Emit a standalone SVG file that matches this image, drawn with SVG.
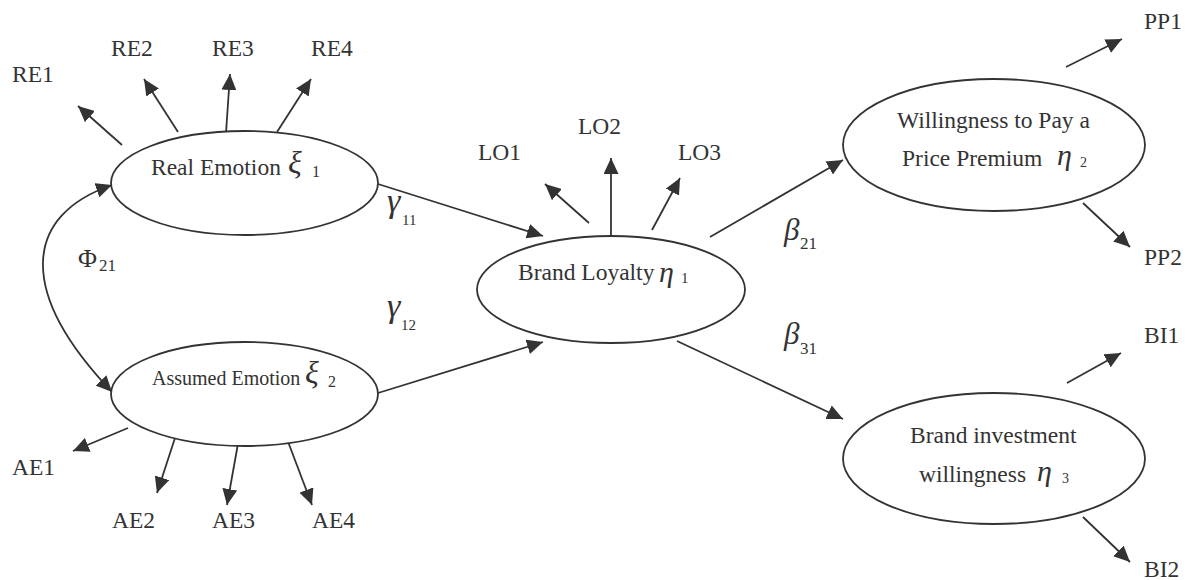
<svg xmlns="http://www.w3.org/2000/svg" width="1190" height="580" viewBox="0 0 1190 580">
<defs>
<marker id="ah" markerUnits="userSpaceOnUse" markerWidth="16" markerHeight="15" refX="16" refY="7.5" orient="auto-start-reverse">
<path d="M0,0 L16,7.5 L0,15 z" fill="#333"/>
</marker>
<style>
text{font-family:"Liberation Serif","Times New Roman",serif;fill:#333;}
.lbl{font-size:23.5px;}
.gr{font-style:italic;font-size:30px;}
.gx{font-style:italic;font-size:32px;}
.gg{font-style:italic;font-size:34px;}
.gb{font-style:italic;font-size:31px;}
.sub{font-size:15px;}
.lat{fill:#fff;stroke:#333;stroke-width:1.8;}
.c{stroke:#333;stroke-width:1.8;fill:none;marker-end:url(#ah);}
</style>
</defs>
<rect width="1190" height="580" fill="#fff"/>
<g id="connectors">
<line class="c" x1="122" y1="145" x2="78" y2="106"/>
<line class="c" x1="178" y1="132" x2="144" y2="79"/>
<line class="c" x1="226" y1="133" x2="230" y2="74"/>
<line class="c" x1="277" y1="132" x2="311" y2="79"/>
<line class="c" x1="128" y1="428" x2="73" y2="451"/>
<line class="c" x1="175" y1="438" x2="157" y2="493"/>
<line class="c" x1="239" y1="438" x2="227" y2="505"/>
<line class="c" x1="287" y1="439" x2="312" y2="505"/>
<line class="c" x1="589" y1="223" x2="545" y2="184"/>
<line class="c" x1="611" y1="236" x2="611" y2="158"/>
<line class="c" x1="652" y1="230" x2="680" y2="178"/>
<line class="c" x1="378" y1="184" x2="543" y2="236"/>
<line class="c" x1="378" y1="393" x2="543" y2="342"/>
<line class="c" x1="710" y1="237" x2="843" y2="160"/>
<line class="c" x1="677" y1="341" x2="843" y2="419"/>
<line class="c" x1="1066" y1="67" x2="1122" y2="39"/>
<line class="c" x1="1083" y1="203" x2="1130" y2="247"/>
<line class="c" x1="1067" y1="383" x2="1121" y2="353"/>
<line class="c" x1="1083" y1="517" x2="1130" y2="562"/>
<path class="c" style="marker-start:url(#ah)" d="M112,185 C25,215 15,290 112,392"/>
</g>
<g id="coef-labels">
<text class="gg" x="387" y="212">γ</text><text class="sub" x="402" y="225">11</text>
<text class="gg" x="387" y="317">γ</text><text class="sub" x="401" y="330">12</text>
<text class="gb" x="784" y="240">β</text><text x="800" y="249" style="font-size:17px">21</text>
<text class="gb" x="784" y="344">β</text><text x="800" y="354" style="font-size:17px">31</text>
<text x="78" y="267" style="font-size:26px">Φ</text><text x="99" y="271" style="font-size:17px">21</text>
</g>
<g id="real-emotion">
<ellipse class="lat" cx="244.5" cy="183" rx="133.5" ry="52"/>
<text class="lbl" x="151" y="175">Real Emotion</text><text class="gx" x="288" y="173">ξ</text><text style="font-size:16px" x="312" y="177">1</text>
</g>
<g id="assumed-emotion">
<ellipse class="lat" cx="244.5" cy="394" rx="133.5" ry="52"/>
<text style="font-size:20px" x="152" y="385">Assumed Emotion</text><text class="gx" x="305" y="383">ξ</text><text style="font-size:16px" x="328" y="387">2</text>
</g>
<g id="brand-loyalty">
<ellipse class="lat" cx="611" cy="289.5" rx="134" ry="53.5"/>
<text class="lbl" x="518" y="280">Brand Loyalty</text><text class="gr" x="659" y="282">η</text><text class="sub" x="681" y="283">1</text>
</g>
<g id="price-premium">
<ellipse class="lat" cx="994" cy="145" rx="151" ry="66"/>
<text class="lbl" x="897" y="128">Willingness to Pay a</text>
<text class="lbl" x="902" y="166">Price Premium</text><text class="gr" x="1057" y="165">η</text><text style="font-size:14px" x="1080" y="167">2</text>
</g>
<g id="brand-investment">
<ellipse class="lat" cx="994" cy="458.5" rx="151" ry="65.5"/>
<text class="lbl" x="910" y="443">Brand investment</text>
<text class="lbl" x="919" y="482">willingness</text><text class="gr" x="1037" y="481">η</text><text style="font-size:14px" x="1062" y="483">3</text>
</g>
<g id="RE1"><text class="lbl" x="12" y="82">RE1</text></g>
<g id="RE2"><text class="lbl" x="111" y="56">RE2</text></g>
<g id="RE3"><text class="lbl" x="212" y="56">RE3</text></g>
<g id="RE4"><text class="lbl" x="311" y="56">RE4</text></g>
<g id="AE1"><text class="lbl" x="12" y="475">AE1</text></g>
<g id="AE2"><text class="lbl" x="112" y="528">AE2</text></g>
<g id="AE3"><text class="lbl" x="212" y="528">AE3</text></g>
<g id="AE4"><text class="lbl" x="312" y="528">AE4</text></g>
<g id="LO1"><text class="lbl" x="478" y="160">LO1</text></g>
<g id="LO2"><text class="lbl" x="578" y="134">LO2</text></g>
<g id="LO3"><text class="lbl" x="678" y="160">LO3</text></g>
<g id="PP1"><text class="lbl" x="1144" y="29">PP1</text></g>
<g id="PP2"><text class="lbl" x="1144" y="265">PP2</text></g>
<g id="BI1"><text class="lbl" x="1144" y="343">BI1</text></g>
<g id="BI2"><text class="lbl" x="1144" y="577">BI2</text></g>
</svg>
